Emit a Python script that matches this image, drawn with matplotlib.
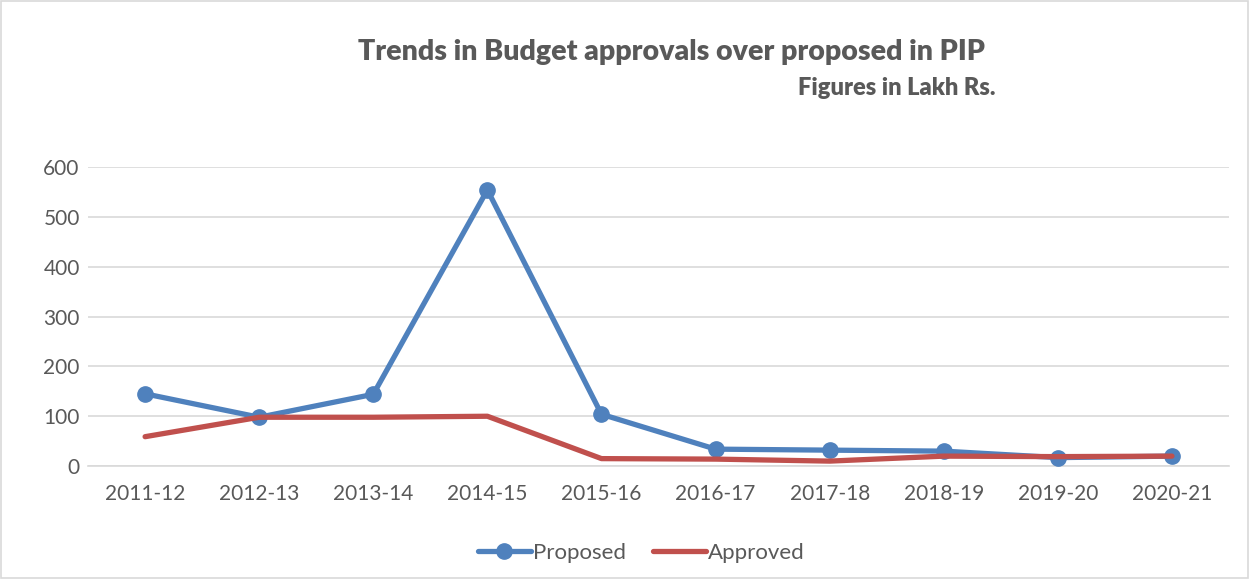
import matplotlib.pyplot as plt
from matplotlib.patches import Rectangle

years = ["2011-12", "2012-13", "2013-14", "2014-15", "2015-16",
         "2016-17", "2017-18", "2018-19", "2019-20", "2020-21"]
proposed = [145, 98, 144, 554, 104, 34, 32, 30, 17, 20]
approved = [59, 98, 98, 100, 15, 14, 10, 20, 19, 20]

plt.rcParams['font.family'] = ['Lato', 'DejaVu Sans']

fig = plt.figure(figsize=(12.49, 5.79), dpi=100)
ax = fig.add_axes([0.0705, 0.195, 0.9135, 0.5166])

x = list(range(len(years)))
ax.plot(x, proposed, color="#4F81BD", lw=3.8, marker="o", markersize=11,
        label="Proposed", solid_capstyle="round", zorder=3)
ax.plot(x, approved, color="#C0504D", lw=3.8, label="Approved",
        solid_capstyle="round", zorder=3)

ax.set_xlim(-0.5, len(years) - 0.5)
ax.set_ylim(0, 600)
ax.set_yticks(range(0, 601, 100))
ax.set_xticks(x)
ax.set_xticklabels(years)
ax.yaxis.grid(True, color="#D9D9D9", lw=1.2)
ax.set_axisbelow(True)
for s in ["top", "right", "left"]:
    ax.spines[s].set_visible(False)
ax.spines["bottom"].set_color("#D9D9D9")
ax.spines["bottom"].set_linewidth(1.2)
ax.tick_params(length=0, labelsize=15, colors="#595959")
ax.tick_params(axis="y", pad=6)
ax.tick_params(axis="x", pad=13)

fig.text(0.5375, 0.91, "Trends in Budget approvals over proposed in PIP",
         ha="center", va="center", fontsize=20.5, fontweight="heavy", color="#595959")
fig.text(0.797, 0.848, "Figures in Lakh Rs.", ha="right", va="center",
         fontsize=17, fontweight="heavy", color="#595959")

ax.legend(loc="center", bbox_to_anchor=(0.485, -0.29), ncol=2, frameon=False,
          fontsize=16, labelcolor="#595959", handlelength=2.4,
          handletextpad=0.1, columnspacing=1.2)

fig.add_artist(Rectangle((0.0008, 0.001), 0.998, 0.997, transform=fig.transFigure,
                         fill=False, edgecolor="#D9D9D9", lw=1.2))

fig.savefig("out.png", dpi=100)
